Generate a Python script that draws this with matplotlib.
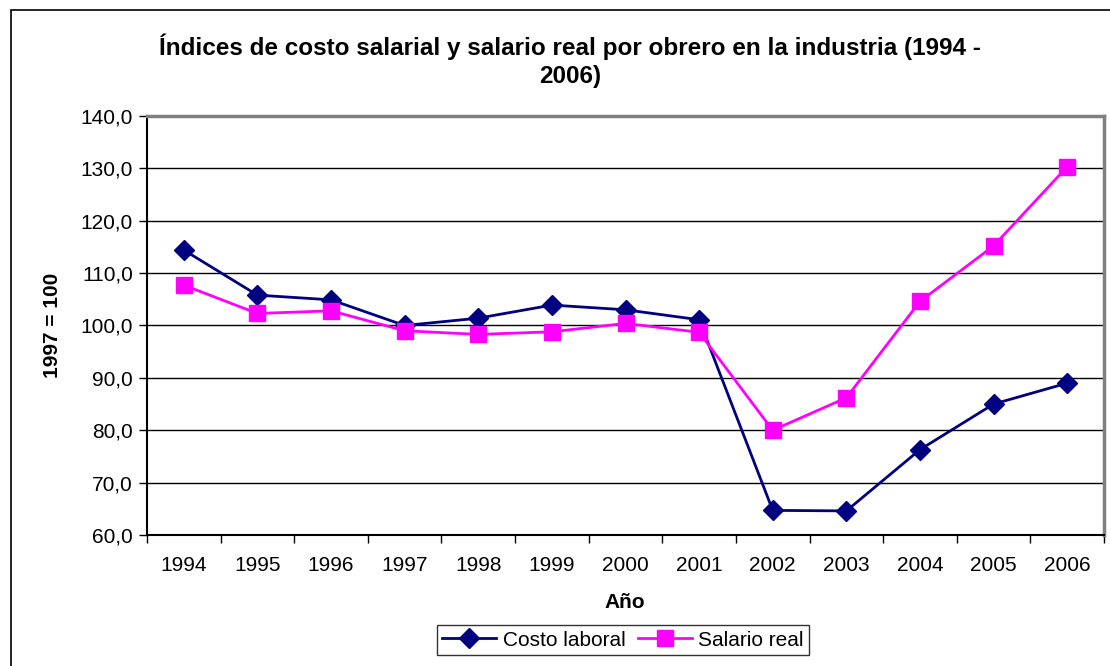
import matplotlib
matplotlib.use("Agg")
import matplotlib.pyplot as plt
from matplotlib.patches import Rectangle
from matplotlib.ticker import FixedLocator, FuncFormatter

plt.rcParams['font.family'] = ['Liberation Sans', 'DejaVu Sans']

years = ['1994', '1995', '1996', '1997', '1998', '1999', '2000',
         '2001', '2002', '2003', '2004', '2005', '2006']
costo_laboral = [114.4, 105.8, 104.9, 100.0, 101.4, 103.9, 103.0,
                 101.1, 64.7, 64.6, 76.3, 85.0, 89.0]
salario_real = [107.7, 102.3, 102.8, 99.0, 98.3, 98.8, 100.4,
                98.7, 80.0, 86.2, 104.6, 115.2, 130.3]

W, H = 1110, 666
fig = plt.figure(figsize=(W / 100, H / 100), dpi=100)

# outer chart border
fig.patches.append(Rectangle((11 / W, -0.1), 1.2, (H - 10) / H + 0.1,
                             transform=fig.transFigure, fill=False,
                             edgecolor='black', linewidth=1.2))

left, right, top, bottom = 147, 1104, 116, 535
ax = fig.add_axes([left / W, 1 - bottom / H, (right - left) / W, (bottom - top) / H])

x = list(range(len(years)))
ax.plot(x, costo_laboral, color='#000080', linewidth=2, marker='D',
        markersize=10, label='Costo laboral', zorder=3)
ax.plot(x, salario_real, color='#FF00FF', linewidth=2, marker='s',
        markersize=11, label='Salario real', zorder=4)

ax.set_xlim(-0.5, len(years) - 0.5)
ax.set_ylim(60, 140)
ax.set_yticks(range(60, 141, 10))
ax.yaxis.set_major_formatter(FuncFormatter(lambda v, p: f"{v:.1f}".replace('.', ',')))
ax.set_xticks(x)
ax.set_xticklabels(years)
ax.xaxis.set_minor_locator(FixedLocator([i - 0.5 for i in range(len(years) + 1)]))
ax.tick_params(axis='x', which='major', length=0, pad=15, labelsize=15)
ax.tick_params(axis='x', which='minor', length=6, width=1, color='black')
ax.tick_params(axis='y', length=6, width=1, labelsize=15, pad=4)

ax.grid(axis='y', color='black', linewidth=1)
ax.set_axisbelow(True)

ax.spines['left'].set_color('black')
ax.spines['bottom'].set_color('black')
ax.spines['left'].set_linewidth(1.5)
ax.spines['bottom'].set_linewidth(1.5)
ax.spines['top'].set_color('#808080')
ax.spines['right'].set_color('#808080')
ax.spines['top'].set_linewidth(2.5)
ax.spines['right'].set_linewidth(2.5)

fig.text(570 / W, 1 - 61 / H,
         'Índices de costo salarial y salario real por obrero en la industria (1994 -\n2006)',
         ha='center', va='center', fontsize=17.5, fontweight='bold', linespacing=1.3)

fig.text(53 / W, 1 - 325 / H, '1997 = 100', rotation=90, ha='center', va='center',
         fontsize=15, fontweight='bold')
fig.text(625 / W, 1 - 603 / H, 'Año', ha='center', va='center',
         fontsize=15, fontweight='bold')

leg = fig.legend(loc='center', bbox_to_anchor=(623 / W, 1 - 640 / H), ncol=2,
                 frameon=True, fancybox=False, fontsize=15, handlelength=2.6,
                 columnspacing=0.6, handletextpad=0.3, borderpad=0.25,
                 borderaxespad=0)
leg.get_frame().set_edgecolor('black')
leg.get_frame().set_linewidth(1)

fig.savefig('out.png', dpi=100)
